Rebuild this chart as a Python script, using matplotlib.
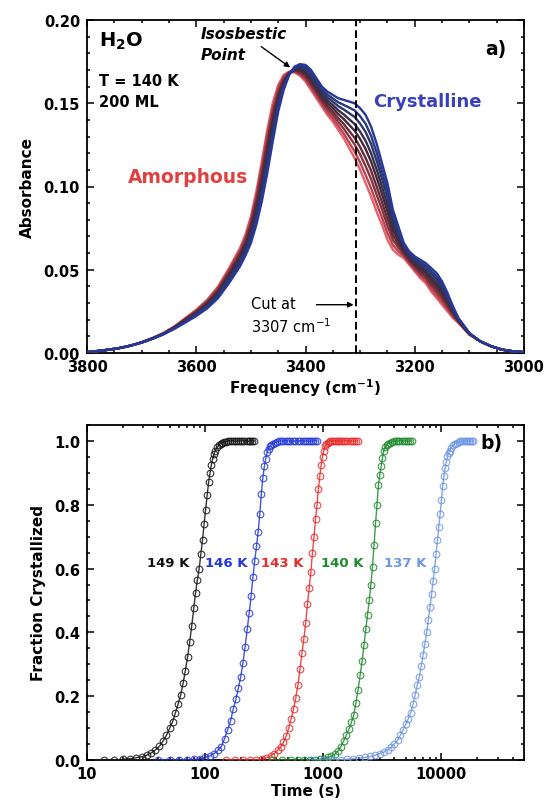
import numpy as np
import matplotlib
matplotlib.use("Agg")
import matplotlib.pyplot as plt
from matplotlib.ticker import MultipleLocator, LogLocator, NullFormatter, FixedLocator

plt.rcParams['font.family'] = ['DejaVu Sans']
plt.rcParams['font.weight'] = 'bold'
plt.rcParams['axes.labelweight'] = 'bold'
plt.rcParams['mathtext.default'] = 'bf'

# ── panel a) : IR spectra (absorbance vs frequency) ─────────────────
freq = [3800, 3780, 3760, 3740, 3720, 3700, 3680, 3660, 3640, 3620,
        3600, 3580, 3560, 3540, 3520, 3510, 3500, 3490, 3480, 3470,
        3460, 3450, 3440, 3430, 3420, 3410, 3400, 3390, 3380, 3370,
        3360, 3350, 3340, 3330, 3320, 3310, 3300, 3290, 3280, 3270,
        3260, 3250, 3240, 3230, 3220, 3210, 3200, 3190, 3180, 3170,
        3160, 3150, 3140, 3130, 3120, 3100, 3080, 3060, 3040, 3020,
        3000]
amorphous = [0.0005, 0.0012, 0.0020, 0.0030, 0.0045, 0.0065, 0.0090, 0.0120, 0.0160, 0.0210,
             0.0260, 0.0320, 0.0400, 0.0510, 0.0630, 0.0710, 0.0820, 0.0970, 0.1150, 0.1340,
             0.1500, 0.1610, 0.1670, 0.1690, 0.1685, 0.1665, 0.1630, 0.1580, 0.1530, 0.1480,
             0.1430, 0.1390, 0.1340, 0.1290, 0.1230, 0.1170, 0.1100, 0.1020, 0.0940, 0.0850,
             0.0770, 0.0680, 0.0620, 0.0590, 0.0570, 0.0530, 0.0490, 0.0450, 0.0420, 0.0370,
             0.0330, 0.0290, 0.0250, 0.0210, 0.0180, 0.0110, 0.0070, 0.0040, 0.0020, 0.0010,
             0.0005]
crystalline = [0.0005, 0.0012, 0.0020, 0.0030, 0.0044, 0.0062, 0.0085, 0.0112, 0.0145, 0.0183,
               0.0222, 0.0268, 0.0330, 0.0420, 0.0520, 0.0585, 0.0660, 0.0770, 0.0910, 0.1080,
               0.1270, 0.1450, 0.1580, 0.1670, 0.1720, 0.1735, 0.1730, 0.1700, 0.1650, 0.1600,
               0.1570, 0.1550, 0.1530, 0.1520, 0.1510, 0.1500, 0.1470, 0.1430, 0.1360, 0.1260,
               0.1140, 0.1020, 0.0860, 0.0760, 0.0660, 0.0610, 0.0580, 0.0560, 0.0540, 0.0510,
               0.0480, 0.0430, 0.0360, 0.0280, 0.0210, 0.0120, 0.0070, 0.0040, 0.0020, 0.0010,
               0.0005]
# crystalline fraction of each recorded spectrum (amorphous -> crystalline)
spec_frac = [0.0, 0.12, 0.25, 0.37, 0.5, 0.62, 0.75, 0.87, 1.0]
spec_colors = ['#e8606a', '#b84454', '#88343f', '#642c38', '#46283a',
               '#36304e', '#2e3668', '#2a3882', '#283898']

# ── panel b) : fraction crystallized vs time ────────────────────────
t149 = [14, 17, 20, 23, 26, 29, 32, 35, 38, 41,
        44, 47, 50, 53, 56, 59, 62, 65, 68, 71,
        74, 77, 80, 83, 86, 89, 92, 95, 98, 101,
        104, 107, 110, 113, 116, 119, 122, 126, 130, 135,
        140, 145, 150, 156, 162, 168, 175, 182, 190, 198,
        206, 215, 224, 233, 242, 251, 260]
f149 = [0, 0, 0.002, 0.004, 0.007, 0.01, 0.015, 0.022, 0.032, 0.043,
        0.059, 0.077, 0.099, 0.12, 0.148, 0.175, 0.203, 0.24, 0.28, 0.323,
        0.37, 0.42, 0.475, 0.525, 0.565, 0.60, 0.645, 0.69, 0.74, 0.785,
        0.83, 0.87, 0.90, 0.925, 0.945, 0.96, 0.97, 0.98, 0.987, 0.992,
        0.995, 0.997, 0.998, 1.0, 1.0, 1.001, 1.0, 0.999, 1.0, 1.0,
        1.001, 1.0, 1.0, 0.999, 1.0, 1.0, 1.0]

t146 = [40, 50, 60, 70, 80, 90, 100, 110,
        119, 128, 137, 146, 155, 164, 173, 182, 191, 200,
        209, 218, 227, 236, 245, 254, 263, 272, 281, 290,
        299, 308, 317, 326, 335, 344, 353, 362,
        375, 390, 405, 420,
        440, 460, 480, 500, 525, 550, 580, 610, 640, 670,
        700, 730, 760, 790, 820, 850, 880]
f146 = [0, 0, 0, 0.001, 0.002, 0.004, 0.008, 0.013,
        0.02, 0.03, 0.042, 0.067, 0.095, 0.122, 0.16, 0.19, 0.225, 0.26,
        0.305, 0.355, 0.41, 0.46, 0.515, 0.575, 0.625, 0.67, 0.715, 0.77,
        0.835, 0.885, 0.92, 0.945, 0.965, 0.975, 0.983, 0.988,
        0.992, 0.995, 0.997, 0.999,
        1.0, 1.0, 1.001, 1.0, 1.0, 0.999, 1.0, 1.0, 1.001, 1.0,
        1.0, 1.0, 0.999, 1.0, 1.0, 1.001, 1.0]

t143 = [150, 180, 210, 240, 270, 300, 330, 360,
        385, 410, 435, 460, 485, 510, 535, 560, 585, 610,
        635, 660, 685, 710, 735, 760, 785, 810, 835, 860,
        885, 910, 935, 960, 985, 1010, 1035, 1060,
        1090, 1120, 1150,
        1190, 1230, 1270, 1320, 1370, 1420, 1480, 1540, 1600, 1670,
        1740, 1810, 1880, 1950]
f143 = [0, 0, 0, 0, 0.001, 0.003, 0.007, 0.013,
        0.02, 0.03, 0.04, 0.055, 0.075, 0.10, 0.13, 0.16, 0.195, 0.235,
        0.285, 0.335, 0.38, 0.43, 0.49, 0.54, 0.59, 0.65, 0.70, 0.755,
        0.80, 0.85, 0.89, 0.925, 0.95, 0.97, 0.985, 0.99,
        0.995, 0.998, 1.0,
        1.0, 1.001, 1.0, 1.0, 0.999, 1.0, 1.0, 1.001, 1.0, 1.0,
        1.0, 0.999, 1.0, 1.0]

t140 = [370, 450, 530, 610, 690, 770, 850, 930, 1010,
        1090, 1170, 1250, 1330, 1410, 1490, 1570, 1650, 1730, 1810,
        1890, 1970, 2050, 2130, 2210, 2290, 2370, 2450, 2530, 2610,
        2690, 2770, 2850, 2930, 3010, 3090, 3170, 3250,
        3350, 3450, 3550, 3650,
        3800, 3950, 4100, 4250, 4400,
        4600, 4800, 5000, 5200, 5400, 5600]
f140 = [0, 0, 0, 0, 0, 0, 0.001, 0.002, 0.004,
        0.008, 0.011, 0.018, 0.028, 0.042, 0.06, 0.078, 0.097, 0.118, 0.14,
        0.18, 0.22, 0.265, 0.31, 0.36, 0.41, 0.456, 0.50, 0.55, 0.606,
        0.675, 0.742, 0.80, 0.862, 0.894, 0.92, 0.947, 0.97,
        0.98, 0.987, 0.992, 0.995,
        0.997, 0.999, 1.0, 1.0, 1.0,
        1.001, 1.0, 1.0, 0.999, 1.0, 1.0]

t137 = [800, 1000, 1200, 1400, 1600, 1800, 2000, 2250, 2500, 2750,
        3000, 3250, 3500, 3750, 4000, 4250, 4500, 4750, 5000, 5250,
        5500, 5750, 6000, 6250, 6500, 6750, 7000, 7250, 7500, 7750,
        8000, 8250, 8500, 8750, 9000, 9250, 9500, 9750, 10000, 10250,
        10500, 10750, 11000, 11250, 11500, 11750, 12000, 12500, 13000, 13500,
        14000, 14500, 15000, 15500, 16000, 16500, 17000, 17500, 18000, 18500]
f137 = [0, 0, 0, 0.001, 0.002, 0.004, 0.006, 0.008, 0.011, 0.015,
        0.02, 0.025, 0.031, 0.04, 0.051, 0.062, 0.078, 0.095, 0.113, 0.13,
        0.148, 0.175, 0.205, 0.235, 0.26, 0.295, 0.33, 0.365, 0.40, 0.44,
        0.48, 0.52, 0.56, 0.60, 0.645, 0.69, 0.73, 0.77, 0.815, 0.86,
        0.89, 0.915, 0.935, 0.952, 0.963, 0.97, 0.977, 0.986, 0.992, 0.995,
        0.997, 0.999, 1.0, 1.0, 1.001, 1.0, 1.0, 0.999, 1.0, 1.0]

kin_times = [t149, t146, t143, t140, t137]
kin_frac = [f149, f146, f143, f140, f137]
kin_labels = ['149 K', '146 K', '143 K', '140 K', '137 K']
kin_colors = ['#111111', '#2436d8', '#e82a2a', '#1e8a2e', '#6f95e6']
label_x = [73, 230, 680, 2200, 7400]   # right end of each temperature label

W, H = 545, 812
fig = plt.figure(figsize=(W / 100, H / 100), dpi=100)
ax1 = fig.add_axes([87 / W, 1 - 354 / H, 437 / W, 333 / H])
ax2 = fig.add_axes([87 / W, 1 - 761 / H, 437 / W, 335 / H])

# ── a) spectra
amo = np.array(amorphous)
cry = np.array(crystalline)
for x, c in zip(spec_frac, spec_colors):
    ax1.plot(freq, (1 - x) * amo + x * cry, color=c, lw=1.7, zorder=3)

ax1.axvline(3307, color='k', lw=1.4, ls=(0, (4, 2)), zorder=4)
ax1.set_xlim(3800, 3000)
ax1.set_ylim(0, 0.20)
ax1.xaxis.set_major_locator(MultipleLocator(200))
ax1.xaxis.set_minor_locator(MultipleLocator(50))
ax1.yaxis.set_major_locator(MultipleLocator(0.05))
ax1.yaxis.set_minor_locator(MultipleLocator(0.01))
ax1.yaxis.set_major_formatter(plt.FormatStrFormatter('%.2f'))
ax1.set_xlabel('Frequency (cm$^{-1}$)', fontsize=11, labelpad=2)
ax1.set_ylabel('Absorbance', fontsize=11, labelpad=6)

ax1.text(3778, 0.188, 'H$_2$O', fontsize=14, ha='left', va='center')
ax1.text(3778, 0.1635, 'T = 140 K', fontsize=10.5, ha='left', va='center')
ax1.text(3778, 0.151, '200 ML', fontsize=10.5, ha='left', va='center')
ax1.text(3592, 0.1855, 'Isosbestic\nPoint', fontsize=11, style='italic',
         ha='left', va='center', linespacing=1.45)
ax1.annotate('', xy=(3428, 0.1715), xytext=(3481, 0.184),
             arrowprops=dict(arrowstyle='-|>', color='k', lw=1.0,
                             mutation_scale=8, shrinkA=0, shrinkB=0))
ax1.text(3032, 0.183, 'a)', fontsize=13.5, ha='right', va='center')
ax1.text(3277, 0.1515, 'Crystalline', fontsize=13, color='#3a40b8',
         ha='left', va='center')
ax1.text(3726, 0.106, 'Amorphous', fontsize=13.5, color='#e04040',
         ha='left', va='center')
ax1.text(3500, 0.0295, 'Cut at', fontsize=10.5, fontweight='normal',
         ha='left', va='center')
ax1.text(3500, 0.0165, r'3307 cm$^{\mathregular{-1}}$', fontsize=10.5,
         fontweight='normal', ha='left', va='center')
ax1.annotate('', xy=(3312, 0.029), xytext=(3380, 0.029),
             arrowprops=dict(arrowstyle='-|>', color='k', lw=1.0,
                             mutation_scale=8, shrinkA=0, shrinkB=0))

# ── b) crystallization kinetics
for t, f, c, lab, lx in zip(kin_times, kin_frac, kin_colors, kin_labels, label_x):
    ax2.plot(t, f, color=c, lw=1.0, marker='o', ms=4.8, mfc='none',
             mec=c, mew=0.8, alpha=0.85, zorder=3)
    ax2.text(lx, 0.62, lab, color=c, fontsize=9.5, ha='right', va='center')

ax2.set_xscale('log')
ax2.set_xlim(10, 50000)
ax2.set_ylim(0, 1.05)
ax2.xaxis.set_major_locator(FixedLocator([10, 100, 1000, 10000]))
ax2.xaxis.set_major_formatter(plt.FuncFormatter(lambda v, p: '%d' % v))
ax2.xaxis.set_minor_locator(LogLocator(base=10, subs=np.arange(2, 10)))
ax2.xaxis.set_minor_formatter(NullFormatter())
ax2.yaxis.set_major_locator(MultipleLocator(0.2))
ax2.yaxis.set_minor_locator(MultipleLocator(0.05))
ax2.yaxis.set_major_formatter(plt.FormatStrFormatter('%.1f'))
ax2.set_xlabel('Time (s)', fontsize=11, labelpad=2)
ax2.set_ylabel('Fraction Crystallized', fontsize=11, labelpad=6)
ax2.text(33000, 0.995, 'b)', fontsize=13.5, ha='right', va='center')

for ax in (ax1, ax2):
    for s in ax.spines.values():
        s.set_linewidth(1.3)
    ax.tick_params(which='both', direction='in', top=True, right=True,
                   labelsize=10.5, width=1.1)
    ax.tick_params(which='major', length=5)
    ax.tick_params(which='minor', length=2.5)
    ax.tick_params(axis='x', pad=4)
    ax.tick_params(axis='y', pad=5)

fig.savefig('out.png', dpi=100)
